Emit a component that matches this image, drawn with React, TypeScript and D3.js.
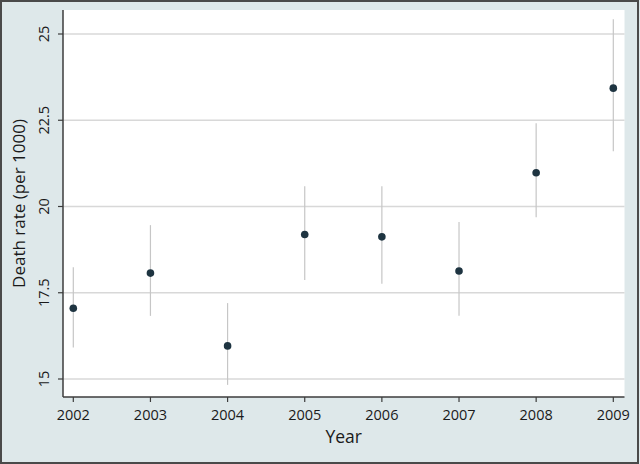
// @ts-nocheck
import React, { useEffect, useRef } from "react";
import { select, scaleLinear } from "d3";

const years = [2002, 2003, 2004, 2005, 2006, 2007, 2008, 2009];
const rates = [17.05, 18.07, 15.96, 19.19, 19.12, 18.13, 20.98, 23.43];
const lower = [15.91, 16.83, 14.83, 17.87, 17.76, 16.83, 19.69, 21.6];
const upper = [18.24, 19.46, 17.2, 20.59, 20.59, 19.55, 22.41, 25.43];
const yTicks = [15, 17.5, 20, 22.5, 25];

const W = 640;
const H = 464;
const font = "'Open Sans', sans-serif";

export default function App() {
  const ref = useRef(null);

  useEffect(() => {
    document.body.style.margin = "0";
    const svg = select(ref.current);
    svg.selectAll("*").remove();

    const plot = { left: 63, right: 624.5, top: 10, bottom: 397 };
    const x = scaleLinear().domain([2002, 2009]).range([73.3, 613.3]);
    const y = scaleLinear().domain([15, 25]).range([379, 34]);

    // background + frame
    svg.append("rect").attr("width", W).attr("height", H).attr("fill", "#dee8ea");
    svg
      .append("rect")
      .attr("x", 1)
      .attr("y", 1)
      .attr("width", W - 3)
      .attr("height", H - 2)
      .attr("fill", "none")
      .attr("stroke", "#4a4a4a")
      .attr("stroke-width", 2);

    svg
      .append("rect")
      .attr("x", plot.left)
      .attr("y", plot.top)
      .attr("width", plot.right - plot.left)
      .attr("height", plot.bottom - plot.top)
      .attr("fill", "#ffffff");

    // gridlines
    svg
      .selectAll(".grid")
      .data(yTicks)
      .join("line")
      .attr("x1", plot.left)
      .attr("x2", plot.right)
      .attr("y1", (d) => y(d))
      .attr("y2", (d) => y(d))
      .attr("stroke", "#d8d8d8")
      .attr("stroke-width", 1.5);

    // confidence intervals
    svg
      .selectAll(".ci")
      .data(years)
      .join("line")
      .attr("x1", (d) => x(d))
      .attr("x2", (d) => x(d))
      .attr("y1", (d, i) => y(lower[i]))
      .attr("y2", (d, i) => y(upper[i]))
      .attr("stroke", "#c6c6c6")
      .attr("stroke-width", 1.2);

    // points
    svg
      .selectAll(".pt")
      .data(years)
      .join("circle")
      .attr("cx", (d) => x(d))
      .attr("cy", (d, i) => y(rates[i]))
      .attr("r", 3.8)
      .attr("fill", "#1e3441");

    // axes
    const axisColor = "#3c3c3c";
    svg
      .append("line")
      .attr("x1", plot.left)
      .attr("x2", plot.left)
      .attr("y1", plot.top)
      .attr("y2", plot.bottom)
      .attr("stroke", axisColor)
      .attr("stroke-width", 1.5);
    svg
      .append("line")
      .attr("x1", plot.left)
      .attr("x2", plot.right)
      .attr("y1", plot.bottom)
      .attr("y2", plot.bottom)
      .attr("stroke", axisColor)
      .attr("stroke-width", 1.5);

    // y ticks
    svg
      .selectAll(".yt")
      .data(yTicks)
      .join("line")
      .attr("x1", plot.left - 5)
      .attr("x2", plot.left)
      .attr("y1", (d) => y(d))
      .attr("y2", (d) => y(d))
      .attr("stroke", axisColor)
      .attr("stroke-width", 1.2);
    svg
      .selectAll(".yl")
      .data(yTicks)
      .join("text")
      .attr("transform", (d) => `translate(49,${y(d)}) rotate(-90)`)
      .attr("text-anchor", "middle")
      .attr("font-family", font)
      .attr("font-size", 14.5)
      .attr("fill", "#1a1a1a")
      .text((d) => String(d));

    // x ticks
    svg
      .selectAll(".xt")
      .data(years)
      .join("line")
      .attr("x1", (d) => x(d))
      .attr("x2", (d) => x(d))
      .attr("y1", plot.bottom)
      .attr("y2", plot.bottom + 5)
      .attr("stroke", axisColor)
      .attr("stroke-width", 1.2);
    svg
      .selectAll(".xl")
      .data(years)
      .join("text")
      .attr("x", (d) => x(d))
      .attr("y", 420)
      .attr("text-anchor", "middle")
      .attr("font-family", font)
      .attr("font-size", 14.5)
      .attr("fill", "#1a1a1a")
      .text((d) => String(d));

    // titles
    svg
      .append("text")
      .attr("x", (plot.left + plot.right) / 2)
      .attr("y", 443)
      .attr("text-anchor", "middle")
      .attr("font-family", font)
      .attr("font-size", 17.5)
      .attr("fill", "#1a1a1a")
      .text("Year");
    svg
      .append("text")
      .attr("transform", `translate(25,${(plot.top + plot.bottom) / 2}) rotate(-90)`)
      .attr("text-anchor", "middle")
      .attr("font-family", font)
      .attr("font-size", 17)
      .attr("fill", "#1a1a1a")
      .text("Death rate (per 1000)");
  }, []);

  return <svg ref={ref} width={W} height={H} style={{ display: "block" }} />;
}
